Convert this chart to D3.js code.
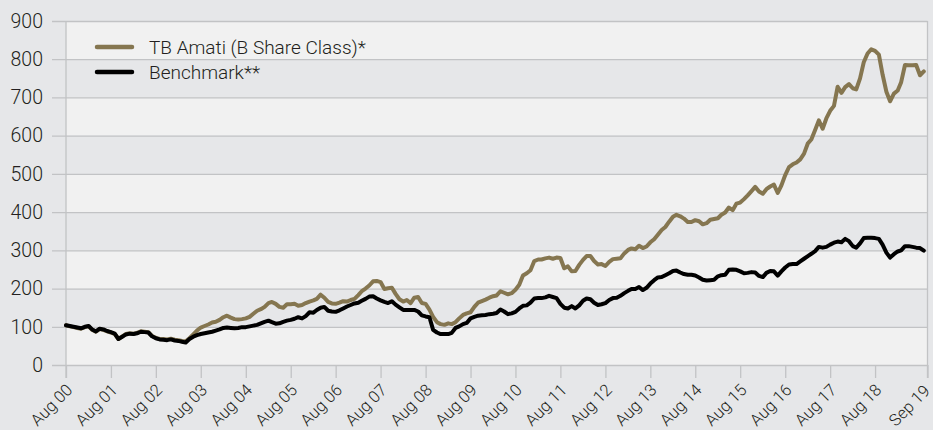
<!DOCTYPE html>
<html>
<head>
<meta charset="utf-8">
<script src="https://cdn.jsdelivr.net/npm/d3@7"></script>
<style>
  html, body { margin: 0; padding: 0; background: #e6e7e9; }
  svg { display: block; }
  text { font-family: Roboto, "Liberation Sans", Arial, sans-serif; font-weight: 300; fill: #231f20; }
</style>
</head>
<body>
<svg id="chart" width="933" height="430"></svg>
<script>
// ---------- DATA ----------
const seriesNames = ["TB Amati (B Share Class)*", "Benchmark**"];
const startYear = 2000, startMonth = 7; // Aug 2000, monthly observations
const amati = [
  104,101,99,97,95,99,101,92,87,94,92,88,85,81,68,75,81,83,82,84,88,87,86,76,
  71,68,68,67,69,66,65,63,62,70,80,90,98,102,106,111,113,118,125,129,124,120,119,120,
  122,126,134,142,146,152,162,165,160,152,150,159,159,160,155,157,162,166,169,173,184,176,165,161,
  160,163,167,166,170,173,183,193,200,208,219,220,217,199,201,202,186,172,166,170,162,176,178,162,
  160,145,126,112,107,105,109,107,112,122,131,135,138,152,163,167,171,176,180,182,193,189,185,188,
  197,210,234,240,248,272,276,276,279,281,278,281,280,253,258,245,246,262,275,285,285,272,263,264,
  259,270,277,278,279,292,301,305,303,312,306,310,321,329,341,353,361,375,388,393,389,383,374,374,
  379,376,368,371,380,382,384,393,399,412,405,422,425,434,444,455,466,454,448,460,467,472,450,470,
  497,518,525,530,538,553,580,590,615,640,618,645,665,678,728,712,727,735,724,721,750,792,815,826,
  822,812,760,715,690,710,718,740,785,784,784,785,758,768
];
const benchmark = [
  104,102,100,98,96,100,102,93,88,95,93,89,86,82,68,74,80,82,81,83,87,86,85,75,
  70,67,66,65,67,64,63,61,59,68,74,78,81,83,85,87,90,93,97,98,97,96,97,99,
  99,101,103,105,109,113,116,112,108,109,113,116,118,121,125,122,128,138,137,144,150,152,142,140,
  139,143,148,153,157,161,163,168,173,179,180,174,169,165,162,167,158,151,144,144,144,144,140,130,
  127,125,92,85,81,81,81,84,97,101,107,110,122,126,129,130,131,133,134,136,145,140,133,135,
  139,148,155,156,163,174,175,175,177,181,178,175,160,150,148,154,148,156,168,174,172,163,157,159,
  162,170,175,176,181,188,194,199,199,204,196,202,213,222,229,230,235,240,246,247,242,238,236,236,
  234,229,223,221,222,223,232,235,236,249,250,249,245,240,241,243,242,233,230,241,246,245,234,245,
  255,263,264,264,271,278,285,291,298,309,307,309,315,320,323,321,330,324,311,307,318,332,333,333,
  332,330,315,294,281,290,297,300,311,311,309,307,306,299
];
const yTicks = [0,100,200,300,400,500,600,700,800,900];
const xTickLabels = ["Aug 00","Aug 01","Aug 02","Aug 03","Aug 04","Aug 05","Aug 06","Aug 07","Aug 08","Aug 09",
  "Aug 10","Aug 11","Aug 12","Aug 13","Aug 14","Aug 15","Aug 16","Aug 17","Aug 18","Sep 19"];

// ---------- LAYOUT ----------
const svg = d3.select("#chart");
const W = 933, H = 430;
const pL = 66, pR = 927.5, pT = 21, pB = 365;
const colors = ["#857650", "#000000"];
const gridColor = "#c2c3c5";
const FONT = "Roboto, 'Liberation Sans', Arial, sans-serif";

const dates = amati.map((_, i) => new Date(startYear, startMonth + i, 1));
const endDate = new Date(startYear, startMonth + amati.length, 1);
const x = d3.scaleTime().domain([dates[0], endDate]).range([pL, pR]);
const y = d3.scaleLinear().domain([0, 900]).range([pB, pT]);

svg.append("rect").attr("width", W).attr("height", H).attr("fill", "#e6e7e9");

// alternating bands
const bands = yTicks.slice(0, -1);
svg.append("g").selectAll("rect").data(bands).join("rect")
  .attr("x", pL).attr("width", pR - pL)
  .attr("y", d => y(d + 100)).attr("height", d => y(d) - y(d + 100))
  .attr("fill", (d, i) => i % 2 === 0 ? "#f1f1f1" : "#e6e7e9");

// y axis with gridlines
const yAxis = d3.axisLeft(y).tickValues(yTicks).tickSize(0).tickPadding(10).tickFormat(d3.format("d"));
const gy = svg.append("g").attr("transform", `translate(${pL},0)`).call(yAxis);
gy.select(".domain").remove();
gy.selectAll(".tick line").attr("stroke", gridColor).attr("stroke-width", 1.3)
  .attr("x1", -(pL - 52)).attr("x2", pR - pL);
gy.selectAll(".tick text").attr("font-size", 19.5).attr("x", -23).attr("fill", "#231f20")
  .style("font-family", FONT).style("font-weight", 300);

// vertical frame lines
[pL, pR].forEach(xx => {
  svg.append("line").attr("x1", xx).attr("x2", xx).attr("y1", pT).attr("y2", pB + 13)
    .attr("stroke", gridColor).attr("stroke-width", 1.3);
});

// x axis
const tickDates = xTickLabels.map((l, i) => i < xTickLabels.length - 1 ? new Date(startYear + i, startMonth, 1) : endDate);
const xAxis = d3.axisBottom(x).tickValues(tickDates).tickSize(13)
  .tickFormat((d, i) => xTickLabels[i]);
const gx = svg.append("g").attr("transform", `translate(0,${pB})`).call(xAxis);
gx.select(".domain").remove();
gx.selectAll(".tick line").attr("stroke", gridColor).attr("stroke-width", 1.3);
gx.selectAll(".tick text").attr("font-size", 16.5).attr("fill", "#231f20")
  .style("font-family", FONT).style("font-weight", 300)
  .attr("text-anchor", "end").attr("dy", null).attr("y", 0)
  .attr("transform", (d, i) => i === xTickLabels.length - 1
    ? "translate(3,27) rotate(-45)" : "translate(7,26) rotate(-45)");

// lines
const line = d3.line().x((d, i) => x(dates[i])).y(d => y(d)).curve(d3.curveLinear);
[amati, benchmark].forEach((s, k) => {
  svg.append("path").datum(s).attr("d", line).attr("fill", "none")
    .attr("stroke", colors[k]).attr("stroke-width", 4)
    .attr("stroke-linejoin", "round").attr("stroke-linecap", "round");
});

// legend
const leg = svg.append("g");
seriesNames.forEach((n, k) => {
  const ly = 47 + k * 25;
  leg.append("line").attr("x1", 97).attr("x2", 132).attr("y1", ly).attr("y2", ly)
    .attr("stroke", colors[k]).attr("stroke-width", 4.5).attr("stroke-linecap", "round");
  leg.append("text").attr("x", 149).attr("y", ly + 6.5).attr("font-size", 19).text(n);
});
</script>
</body>
</html>
